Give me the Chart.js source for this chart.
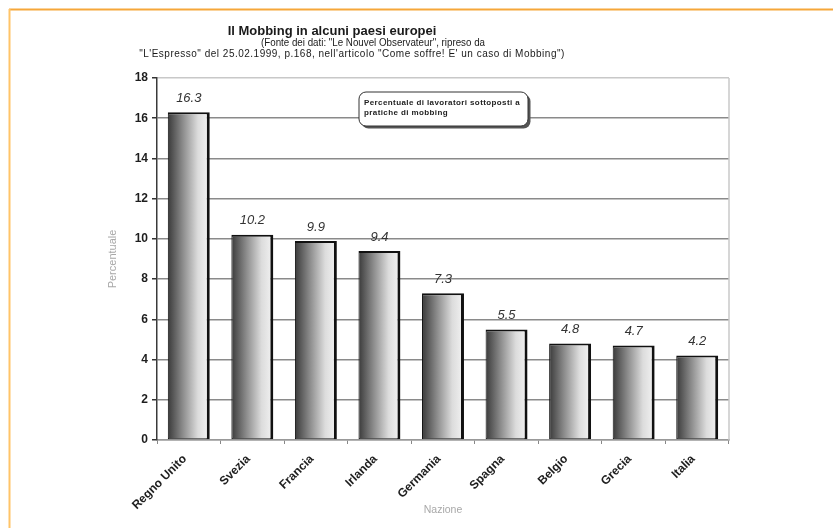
<!DOCTYPE html>
<html>
<head>
<meta charset="utf-8">
<script src="https://cdn.jsdelivr.net/npm/chart.js@4.4.1/dist/chart.umd.min.js"></script>
<style>
  html, body { margin: 0; padding: 0; background: #ffffff; }
  #wrap { position: relative; width: 833px; height: 528px; }
</style>
</head>
<body>
<div id="wrap"><canvas id="c" width="833" height="528"></canvas></div>
<script>
// ---- data ----
const categories = ["Regno Unito", "Svezia", "Francia", "Irlanda", "Germania", "Spagna", "Belgio", "Grecia", "Italia"];
const percentuale = [16.3, 10.2, 9.9, 9.4, 7.3, 5.5, 4.8, 4.7, 4.2];
const yTicks = [0, 2, 4, 6, 8, 10, 12, 14, 16, 18];
const titleText = "Il Mobbing in alcuni paesi europei";
const subtitleLines = [
  "(Fonte dei dati: \"Le Nouvel Observateur\", ripreso da",
  "\"L'Espresso\" del 25.02.1999, p.168, nell'articolo \"Come soffre! E' un caso di Mobbing\")"
];
const seriesName = ["Percentuale di lavoratori sottoposti a", "pratiche di mobbing"];
const yTitle = "Percentuale";
const xTitle = "Nazione";

const FONT = "'Liberation Sans', Arial, sans-serif";
const BAR_FRACTION = 0.66;

function barGradient(ctx) {
  const chart = ctx.chart;
  const xs = chart.scales && chart.scales.x;
  const area = chart.chartArea;
  if (!xs || !area || ctx.type !== 'data') return '#999999';
  const cx = xs.getPixelForValue(ctx.dataIndex);
  const w = (area.right - area.left) / categories.length * BAR_FRACTION;
  const g = chart.ctx.createLinearGradient(cx - w / 2, 0, cx + w / 2, 0);
  g.addColorStop(0, '#3a3a3a');
  g.addColorStop(0.35, '#8a8a8a');
  g.addColorStop(0.72, '#dcdcdc');
  g.addColorStop(1, '#f3f3f3');
  return g;
}

const decorPlugin = {
  id: 'decor',
  beforeDraw(chart) {
    const c = chart.ctx;
    c.save();
    c.fillStyle = '#ffffff';
    c.fillRect(0, 0, chart.width, chart.height);
    // orange frame
    c.lineWidth = 2;
    c.strokeStyle = '#F6A73A';
    c.beginPath(); c.moveTo(9, 9.5); c.lineTo(chart.width, 9.5); c.stroke();
    c.strokeStyle = '#FFC468';
    c.beginPath(); c.moveTo(9.5, 9); c.lineTo(9.5, chart.height); c.stroke();
    // titles
    c.fillStyle = '#1a1a1a';
    c.textAlign = 'center';
    c.textBaseline = 'middle';
    c.font = 'bold 13px ' + FONT;
    c.fillText(titleText, 332, 31, 212);
    c.font = '10px ' + FONT;
    c.fillText(subtitleLines[0], 373, 43, 224);
    if ('letterSpacing' in c) c.letterSpacing = '0.5px';
    c.fillText(subtitleLines[1], 352, 54, 430);
    if ('letterSpacing' in c) c.letterSpacing = '0px';
    c.restore();
  },
  afterDatasetsDraw(chart) {
    const c = chart.ctx;
    const area = chart.chartArea;
    c.save();
    // right border of plot area
    c.strokeStyle = '#c8c8c8';
    c.lineWidth = 1.5;
    c.beginPath(); c.moveTo(area.right, area.top); c.lineTo(area.right, area.bottom); c.stroke();
    // value labels
    const meta = chart.getDatasetMeta(0);
    c.fillStyle = '#333333';
    c.font = 'italic 13px ' + FONT;
    c.textAlign = 'center';
    c.textBaseline = 'middle';
    meta.data.forEach((el, i) => {
      c.fillText(String(percentuale[i]), el.x, el.y - 14);
    });
    // series box (legend-like)
    const bx = 359, by = 92, bw = 169, bh = 34, r = 7;
    function rr(x, y) {
      c.beginPath();
      c.moveTo(x + r, y);
      c.arcTo(x + bw, y, x + bw, y + bh, r);
      c.arcTo(x + bw, y + bh, x, y + bh, r);
      c.arcTo(x, y + bh, x, y, r);
      c.arcTo(x, y, x + bw, y, r);
      c.closePath();
    }
    c.fillStyle = '#555555';
    rr(bx + 2.5, by + 2.5); c.fill();
    c.fillStyle = '#ffffff';
    rr(bx, by); c.fill();
    c.strokeStyle = '#333333'; c.lineWidth = 1;
    rr(bx, by); c.stroke();
    c.fillStyle = '#222222';
    c.textAlign = 'left';
    c.font = 'bold 8px ' + FONT;
    if ('letterSpacing' in c) c.letterSpacing = '0.4px';
    c.fillText(seriesName[0], 364, 103, 158);
    c.fillText(seriesName[1], 364, 113, 158);
    if ('letterSpacing' in c) c.letterSpacing = '0px';
    c.restore();
  }
};

new Chart(document.getElementById('c'), {
  type: 'bar',
  data: {
    labels: categories,
    datasets: [{
      label: seriesName.join(' '),
      data: percentuale,
      backgroundColor: barGradient,
      borderColor: '#111111',
      borderWidth: { top: 2, right: 3, bottom: 1, left: 1 },
      borderSkipped: false,
      barPercentage: BAR_FRACTION,
      categoryPercentage: 1
    }]
  },
  options: {
    responsive: false,
    animation: false,
    layout: { padding: { left: 103, top: 78, right: 104, bottom: 0 } },
    plugins: {
      legend: { display: false },
      tooltip: { enabled: false },
      title: { display: false }
    },
    scales: {
      x: {
        afterFit(scale) { scale.height = 88; },
        grid: {
          display: true,
          drawOnChartArea: false,
          offset: true,
          tickLength: 4,
          tickColor: '#888888',
          lineWidth: 1
        },
        border: { display: true, color: '#999999', width: 1.5 },
        ticks: {
          autoSkip: false,
          maxRotation: 45,
          minRotation: 45,
          padding: 8,
          labelOffset: -4,
          color: '#1e1e1e',
          font: { family: FONT, size: 12, weight: 'bold' }
        },
        title: {
          display: true,
          text: xTitle,
          color: '#a8a8a8',
          font: { family: FONT, size: 10.5 },
          padding: { top: 0, bottom: 12 }
        }
      },
      y: {
        min: 0,
        max: 18,
        afterFit(scale) { scale.width = 54; },
        afterBuildTicks(scale) { scale.ticks = yTicks.map(v => ({ value: v })); },
        grid: {
          color(ctx) {
            if (ctx.tick && ctx.tick.value === 18) return '#c8c8c8';
            if (ctx.tick && ctx.tick.value === 0) return '#999999';
            return '#8a8a8a';
          },
          lineWidth: 1.5,
          tickLength: 5,
          tickColor: '#333333'
        },
        border: { display: true, color: '#3a3a3a', width: 1.5 },
        ticks: {
          padding: 4,
          color: '#1e1e1e',
          font: { family: FONT, size: 12, weight: 'bold' }
        },
        title: {
          display: true,
          text: yTitle,
          color: '#a8a8a8',
          font: { family: FONT, size: 11 },
          padding: { top: 3, bottom: 4 }
        }
      }
    }
  },
  plugins: [decorPlugin]
});
</script>
</body>
</html>
